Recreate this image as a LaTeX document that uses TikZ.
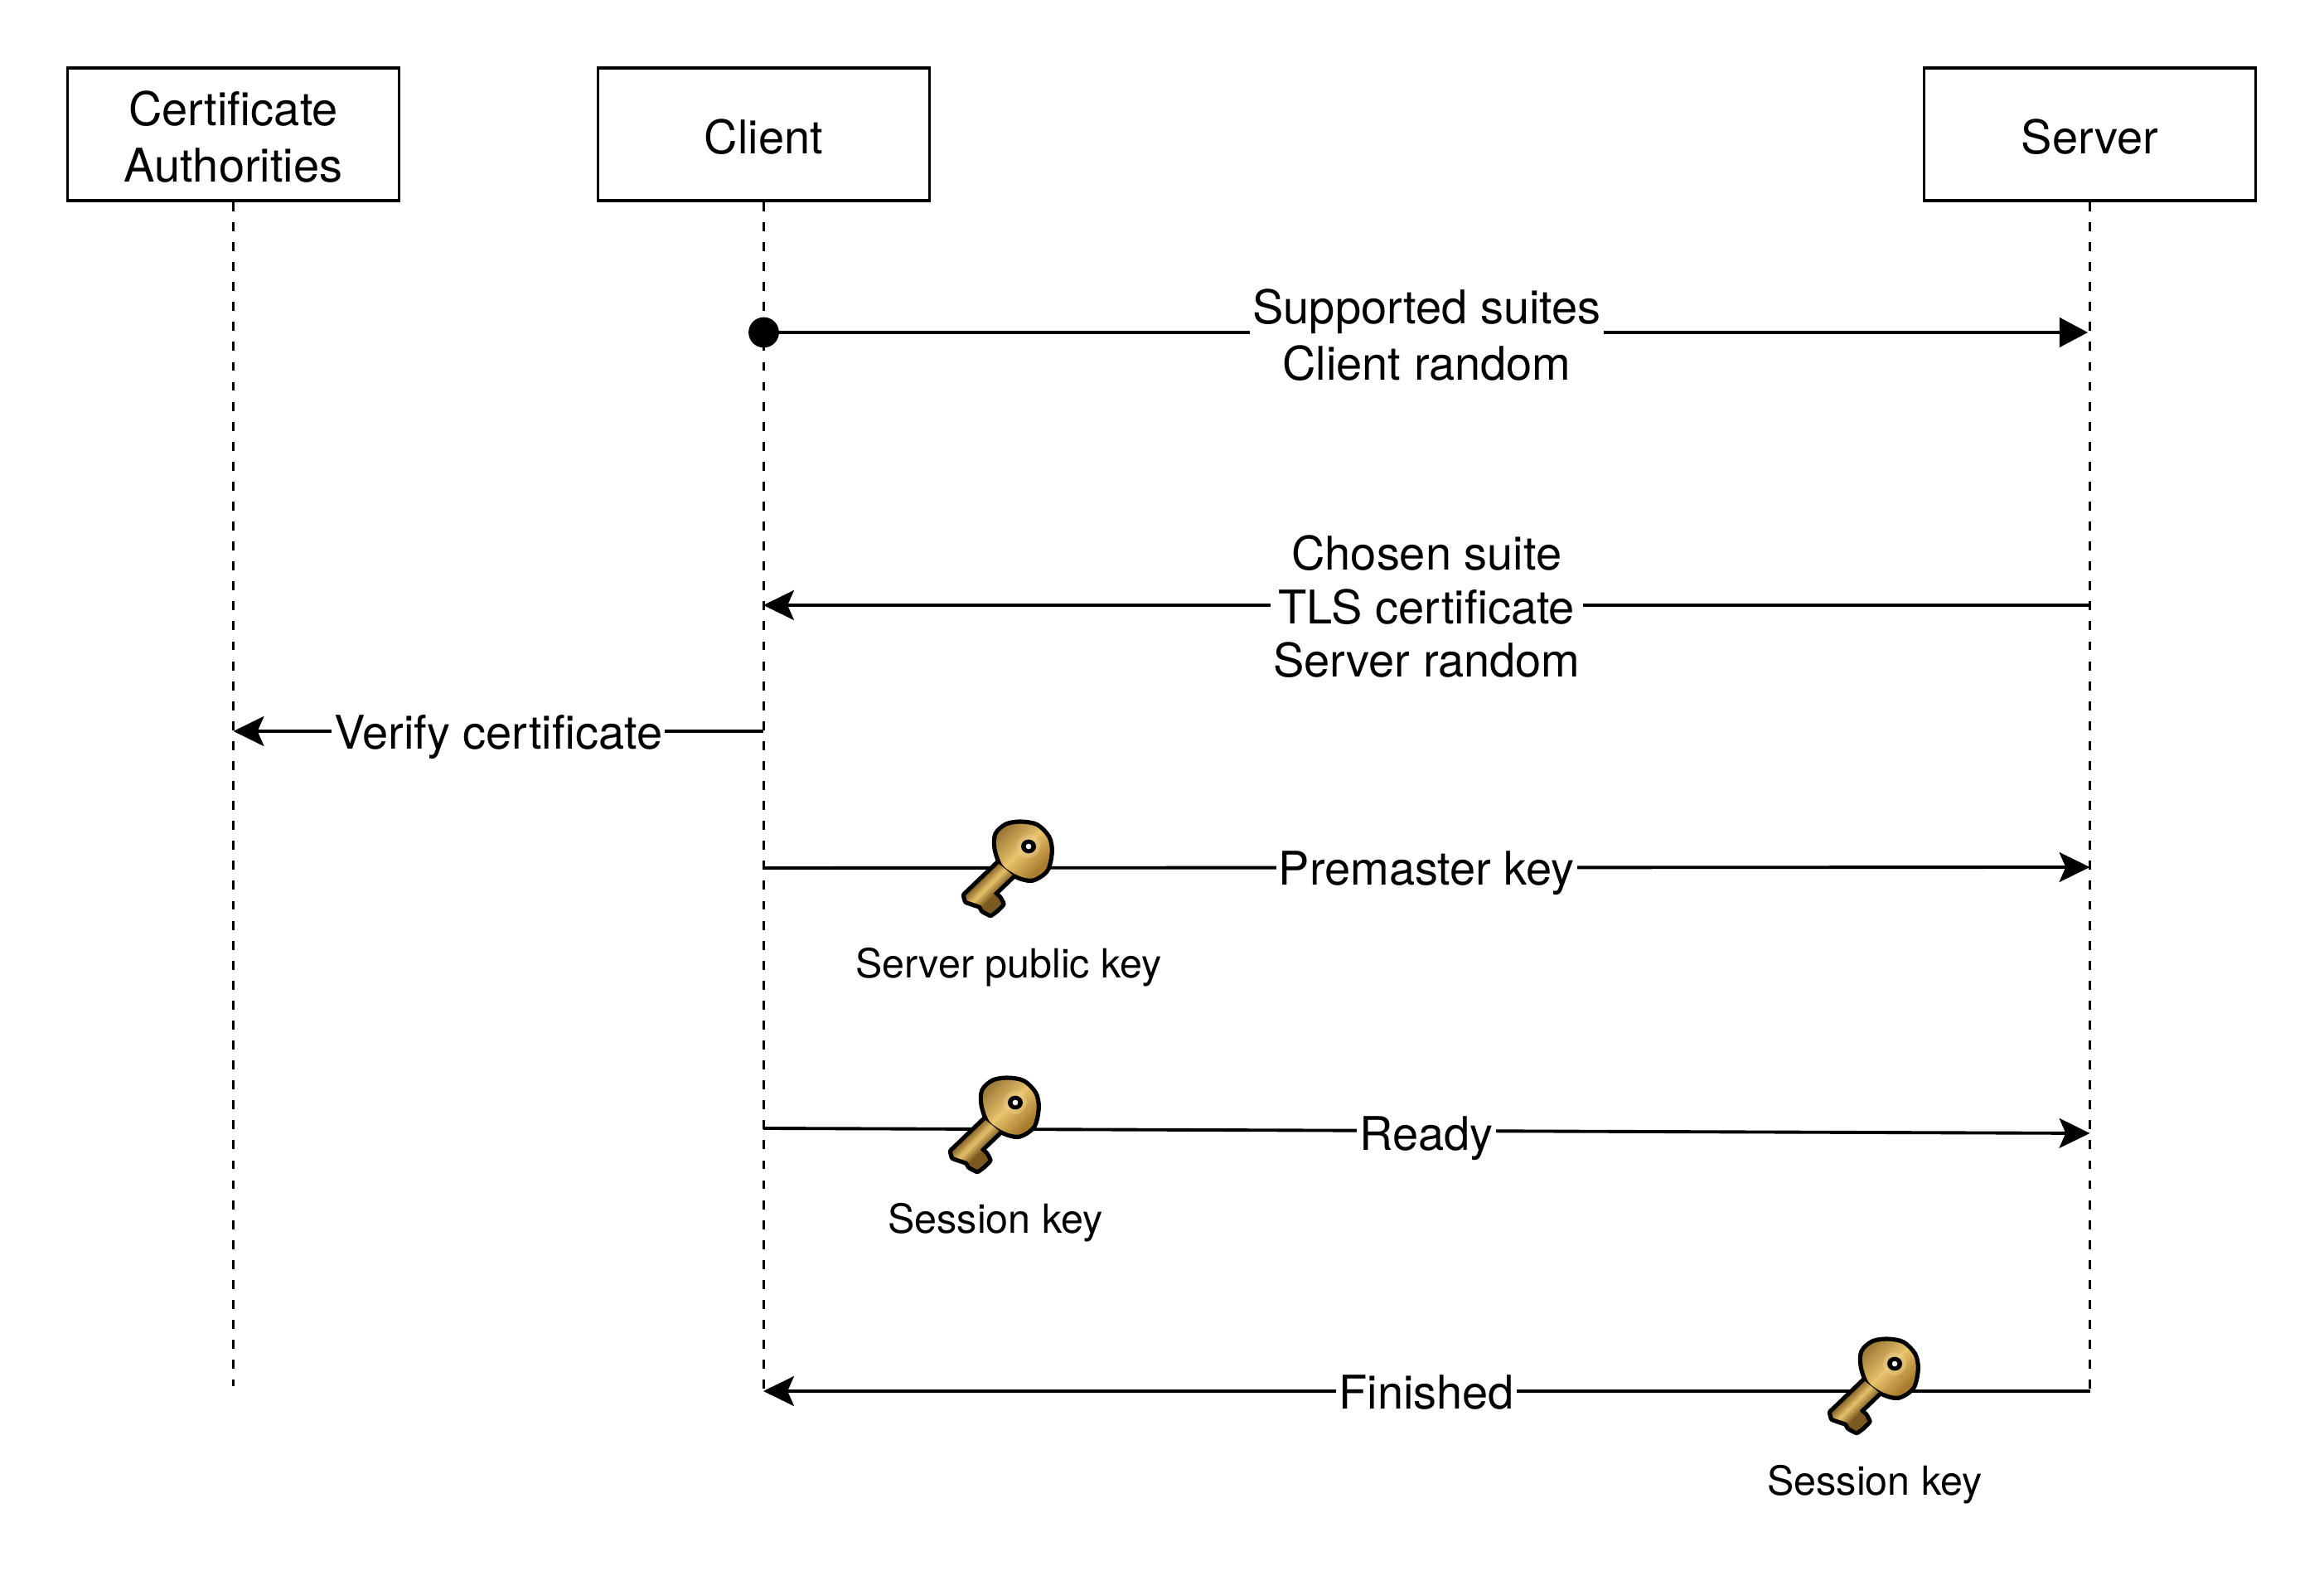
\documentclass[tikz,border=0pt]{standalone}
\usepackage{fontspec}
\setmainfont{TeX Gyre Heros}
\usetikzlibrary{positioning,calc,arrows.meta}
\definecolor{colorKeyEdge}{HTML}{9C7838}
\definecolor{colorKeyMid}{HTML}{EAC46C}
\definecolor{colorKeyLow}{HTML}{A87C2C}
\definecolor{colorKeyShaft}{HTML}{7C5A20}
\newcommand{\keyhead}{plot[smooth cycle] coordinates {(-10,-100) (45,-90) (85,-50) (95,0) (80,65) (30,98) (-25,85) (-75,50) (-97,-10) (-95,-60) (-60,-92)}}
\newcommand{\keyshaft}{(-90,45) -- (-210,160) -- (-205,178) -- (-155,195) -- (-145,212) -- (-120,225) -- (-100,210) -- (-80,190) -- (-90,172) -- (-110,152) -- (-40,85) -- cycle}
\tikzset{
   every path/.style={>={Stealth[length=10.5pt,width=10.2pt,inset=2.2pt]}},
   actor/.style={draw,line width=1.1pt,minimum width=4.0cm,minimum height=1.6cm,inner sep=0pt,align=center,font=\fontsize{15.93}{19.3}\selectfont},
   lifeline/.style={line width=1.1pt,dash pattern=on 3.1pt off 3.75pt},
   msg/.style={->,line width=1.1pt},
   msgblock/.style={line width=1.1pt,-{Triangle[length=9.7pt,width=10pt]},shorten >=0.7pt},
   startdot/.style={circle,fill=black,minimum size=0.367cm,inner sep=0pt},
   msgtext/.style={midway,fill=white,inner xsep=0.9pt,inner ysep=0pt,align=center,font=\fontsize{15.93}{19.3}\selectfont},
   msgshort/.style={msgtext,text height=15.6pt,text depth=3.4pt},
   keylabel/.style={anchor=base,font=\fontsize{13.78}{16}\selectfont},
   keyicon/.pic={
      \begin{scope}[x=0.0333mm,y=-0.0333mm]
      \draw[black,line width=3pt,line join=round,fill=black] \keyshaft;
      \draw[black,line width=3pt,fill=black] \keyhead;
      % bands of colour, across the key
      \begin{scope}
         \clip \keyshaft;
         \foreach \u in {-40,-35,...,80} {
            \pgfmathtruncatemacro{\pct}{max(0,100-abs(\u+2)*2.6)}
            \fill[rotate=-45,colorKeyMid!\pct!colorKeyShaft] (\u,-300) rectangle (\u+6,300);
         }
      \end{scope}
      \begin{scope}
         \clip \keyhead;
         \foreach \u in {-130,-124,...,-10} {
            \pgfmathtruncatemacro{\pct}{max(0,100-abs(\u+8)*0.95)}
            \fill[rotate=-45,colorKeyMid!\pct!colorKeyEdge] (\u,-200) rectangle (\u+7,200);
         }
         \foreach \u in {-8,-2,...,130} {
            \pgfmathtruncatemacro{\pct}{max(0,100-abs(\u+8)*1.05)}
            \fill[rotate=-45,colorKeyMid!\pct!colorKeyLow] (\u,-200) rectangle (\u+7,200);
         }
         \fill[colorKeyMid!60!white,opacity=0.3] (18,-18) circle (42);
      \end{scope}
      \fill[black] (18,-18) ellipse (27 and 25);
      \fill[white] (18,-18) circle (10);
      \end{scope}
   },
}

\begin{document}
\begin{tikzpicture}
   \useasboundingbox (0,0) rectangle (28.04,19);

   \node[actor] (ca) at (2.815,17.38) {\rule{0pt}{13.6pt}Certificate\\Authorities};
   \node[actor,text height=13.6pt] (client) at (9.215,17.38) {Client};
   \node[actor,text height=13.6pt] (server) at (25.215,17.38) {Server};

   % ends of the lifelines
   \coordinate (caend) at (2.815,2.28);
   \coordinate (clientend) at (9.215,2.22);
   \coordinate (serverend) at (25.215,2.22);

   \draw[lifeline] (ca) -- (caend);
   \draw[lifeline] (client) -- (clientend);
   \draw[lifeline] (server) -- (serverend);

   \node[startdot] (hello) at (9.215,14.99) {};
   \coordinate (helloend) at (25.215,14.99);
   \coordinate (chosenstart) at (25.215,11.70);
   \coordinate (chosenend) at (9.21,11.70);
   \coordinate (verifystart) at (9.21,10.18);
   \coordinate (verifyend) at (2.815,10.18);
   \coordinate (premasterstart) at (9.21,8.53);
   \coordinate (premasterend) at (25.215,8.54);
   \coordinate (readystart) at (9.21,5.39);
   \coordinate (readyend) at (25.215,5.33);
   \coordinate (finishedstart) at (25.215,2.22);
   \coordinate (finishedend) at (9.21,2.22);

   \draw[msgblock] (hello.center) -- node[msgtext,yshift=-0.03cm] {Supported suites\\Client random} (helloend);
   \draw[msg] (chosenstart) -- node[msgtext,yshift=-0.018cm,font=\fontsize{15.93}{18.3}\selectfont] {Chosen suite\\TLS certificate\\Server random} (chosenend);
   \draw[msg] (verifystart) -- node[msgshort] {Verify certificate} (verifyend);
   \draw[msg] (premasterstart) -- node[msgshort] {Premaster key} (premasterend);
   \draw[msg] (readystart) -- node[msgshort,text height=16.6pt] {Ready} (readyend);
   \draw[msg] (finishedstart) -- node[msgshort] {Finished} (finishedend);

   \pic (keypublic) at (12.35,8.73) {keyicon};
   \pic (keyclient) at (12.19,5.64) {keyicon};
   \pic (keyserver) at (22.80,2.49) {keyicon};

   \node[keylabel] (publiclabel) at (12.17,7.20) {Server public key};
   \node[keylabel] (clientlabel) at (12.01,4.12) {Session key};
   \node[keylabel] (serverlabel) at (22.62,0.97) {Session key};
\end{tikzpicture}
\end{document}
